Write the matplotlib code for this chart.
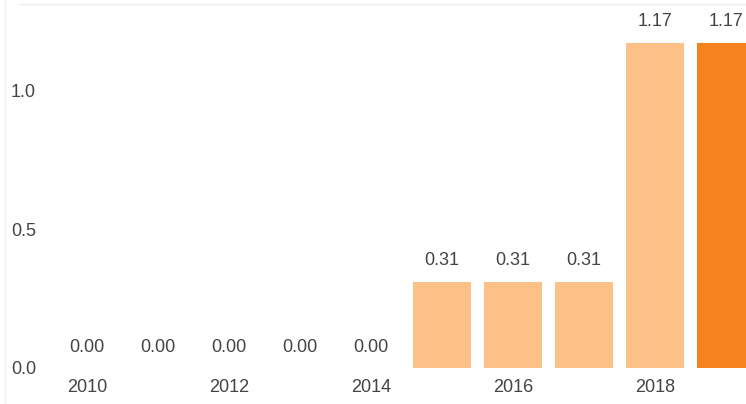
import matplotlib
matplotlib.use("Agg")
import matplotlib.pyplot as plt
from matplotlib.lines import Line2D

years = [2010, 2011, 2012, 2013, 2014, 2015, 2016, 2017, 2018, 2019]
values = [0.00, 0.00, 0.00, 0.00, 0.00, 0.31, 0.31, 0.31, 1.17, 1.17]
xtick_years = [2010, 2012, 2014, 2016, 2018]
yticks = [0.0, 0.5, 1.0]

light = "#FDC086"
dark = "#F5821F"
colors = [light] * (len(years) - 1) + [dark]

W, H = 746, 404
fig = plt.figure(figsize=(W / 100, H / 100), dpi=100)
plt.rcParams['font.family'] = ['Liberation Sans', 'DejaVu Sans']

# axes placement in pixels
left_px, right_px = 50, 746
bottom_px, top_px = 368, 4
ax = fig.add_axes([left_px / W, (H - bottom_px) / H,
                   (right_px - left_px) / W, (bottom_px - top_px) / H])

bars = ax.bar(years, values, width=0.82, color=colors, linewidth=0)

x0_px, step_px = 87, 71
ax.set_xlim(2010 + (left_px - x0_px) / step_px, 2010 + (right_px - x0_px) / step_px)
px_per_unit = (368 - 43) / 1.17
ax.set_ylim(0, (bottom_px - top_px) / px_per_unit)

txt = "#444444"
fs = 13
for b, v in zip(bars, values):
    ax.annotate(f"{v:.2f}", (b.get_x() + b.get_width() / 2, v),
                xytext=(0, 9), textcoords="offset points",
                ha="center", va="bottom", fontsize=fs, color=txt)

ax.set_xticks(xtick_years)
ax.set_xticklabels([str(y) for y in xtick_years])
ax.set_yticks(yticks)
ax.set_yticklabels([f"{t:.1f}" for t in yticks])
ax.tick_params(axis="both", length=0, labelsize=fs, labelcolor=txt)
ax.tick_params(axis="x", pad=8)
ax.tick_params(axis="y", pad=10)
for s in ax.spines.values():
    s.set_visible(False)

# faint frame lines at the top and left of the figure
fig.add_artist(Line2D([5 / W, 5 / W], [0, 1], color="#EEEEEE", lw=1, transform=fig.transFigure))
fig.add_artist(Line2D([20 / W, 1], [1 - 4 / H, 1 - 4 / H], color="#EEEEEE", lw=1, transform=fig.transFigure))

fig.savefig("out.png", dpi=100)
